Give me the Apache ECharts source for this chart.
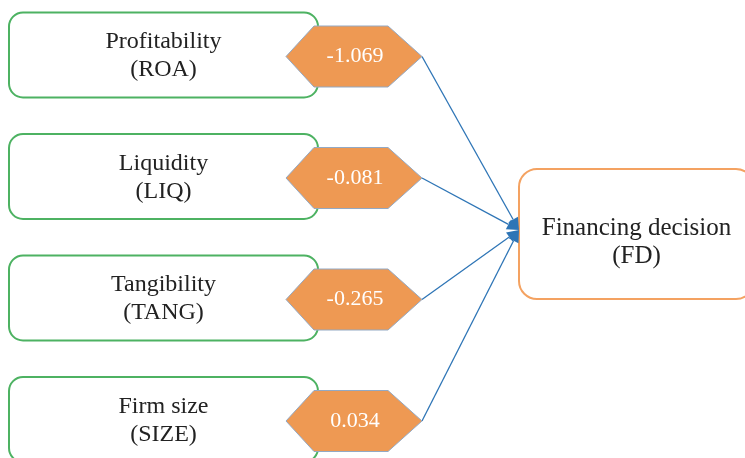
<!DOCTYPE html>
<html>
<head>
<meta charset="utf-8">
<script src="https://cdn.jsdelivr.net/npm/echarts@6/dist/echarts.min.js"></script>
<style>
html,body{margin:0;padding:0;background:#fff;}
#chart{width:745px;height:458px;}
</style>
</head>
<body>
<div id="chart"></div>
<script>
// ---- data ----
const predictors = ['Profitability', 'Liquidity', 'Tangibility', 'Firm size'];
const predictorCodes = ['(ROA)', '(LIQ)', '(TANG)', '(SIZE)'];
const coefficients = [-1.069, -0.081, -0.265, 0.034];
const outcome = 'Financing decision';
const outcomeCode = '(FD)';

// ---- layout (pixel units of the hidden axes) ----
const L = {
  rowY0: 55, rowStep: 121.5,
  boxX0: 9, boxX1: 318, boxH: 85, boxR: 14,
  hexX0: 286, hexX1: 422, hexInset: 28, hexH: 61, hexDy: 1.5,
  outX0: 519, outX1: 754, outY0: 169, outY1: 299, outR: 18,
  tipX: 519, tipY: 230,
  font: '"Liberation Serif", "Times New Roman", serif'
};
const rowY = i => L.rowY0 + i * L.rowStep;

const chart = echarts.init(document.getElementById('chart'));

function boxItem(params, api) {
  const i = params.dataIndex;
  const cy = rowY(i);
  const p0 = api.coord([L.boxX0, cy - L.boxH / 2]);
  const p1 = api.coord([L.boxX1, cy + L.boxH / 2]);
  const c = api.coord([(L.boxX0 + L.boxX1) / 2, cy]);
  return {
    type: 'group',
    children: [
      { type: 'rect', shape: { x: p0[0], y: p0[1], width: p1[0] - p0[0], height: p1[1] - p0[1], r: L.boxR },
        style: { fill: '#fff', stroke: '#4DB262', lineWidth: 2 } },
      { type: 'text', style: { text: predictors[i] + '\n' + predictorCodes[i], x: c[0], y: c[1] + 1,
        align: 'center', verticalAlign: 'middle', fontSize: 24, lineHeight: 28, fontFamily: L.font, fill: '#222' } }
    ]
  };
}

function hexItem(params, api) {
  const i = params.dataIndex;
  const cy = rowY(i) + L.hexDy;
  const pts = [
    [L.hexX0, cy], [L.hexX0 + L.hexInset, cy - L.hexH / 2], [L.hexX1 - L.hexInset - 6, cy - L.hexH / 2],
    [L.hexX1, cy], [L.hexX1 - L.hexInset - 6, cy + L.hexH / 2], [L.hexX0 + L.hexInset, cy + L.hexH / 2]
  ].map(p => api.coord(p));
  const c = api.coord([(L.hexX0 + L.hexX1) / 2, cy]);
  const v = api.value(1);
  return {
    type: 'group',
    children: [
      { type: 'polygon', shape: { points: pts }, style: { fill: '#EE9953', stroke: '#93A9C4', lineWidth: 1 } },
      { type: 'text', style: { text: v.toFixed(3), x: c[0] + 1, y: c[1], align: 'center', verticalAlign: 'middle',
        fontSize: 22, fontFamily: L.font, fill: '#fff' } }
    ]
  };
}

function arrowItem(params, api) {
  const i = params.dataIndex;
  const s = api.coord([L.hexX1, rowY(i) + L.hexDy]);
  const t = api.coord([L.tipX, L.tipY]);
  const dx = t[0] - s[0], dy = t[1] - s[1];
  const len = Math.sqrt(dx * dx + dy * dy);
  const ux = dx / len, uy = dy / len;
  const hl = 12, hw = 5.5;
  const bx = t[0] - ux * hl, by = t[1] - uy * hl;
  return {
    type: 'group',
    children: [
      { type: 'line', shape: { x1: s[0], y1: s[1], x2: bx, y2: by }, style: { stroke: '#2E75B6', lineWidth: 1.3 } },
      { type: 'polygon', shape: { points: [t, [bx - uy * hw, by + ux * hw], [bx + uy * hw, by - ux * hw]] },
        style: { fill: '#2E75B6' } }
    ]
  };
}

function outItem(params, api) {
  const p0 = api.coord([L.outX0, L.outY0]);
  const p1 = api.coord([L.outX1, L.outY1]);
  const c = api.coord([(L.outX0 + L.outX1) / 2, (L.outY0 + L.outY1) / 2]);
  return {
    type: 'group',
    children: [
      { type: 'rect', shape: { x: p0[0], y: p0[1], width: p1[0] - p0[0], height: p1[1] - p0[1], r: L.outR },
        style: { fill: '#fff', stroke: '#F4A261', lineWidth: 2 } },
      { type: 'text', style: { text: outcome + '\n' + outcomeCode, x: c[0], y: c[1] + 8,
        align: 'center', verticalAlign: 'middle', fontSize: 25, lineHeight: 28, fontFamily: L.font, fill: '#222' } }
    ]
  };
}

chart.setOption({
  animation: false,
  grid: { left: 0, right: 0, top: 0, bottom: 0 },
  xAxis: { type: 'value', min: 0, max: 745, show: false },
  yAxis: { type: 'value', min: 0, max: 458, inverse: true, show: false },
  series: [
    { type: 'custom', renderItem: boxItem, data: predictors.map((p, i) => [i]), clip: false, z: 1 },
    { type: 'custom', renderItem: outItem, data: [[0]], clip: false, z: 1 },
    { type: 'custom', renderItem: arrowItem, data: coefficients.map((v, i) => [i, v]), clip: false, z: 2 },
    { type: 'custom', renderItem: hexItem, data: coefficients.map((v, i) => [i, v]), clip: false, z: 3 }
  ]
});
</script>
</body>
</html>
